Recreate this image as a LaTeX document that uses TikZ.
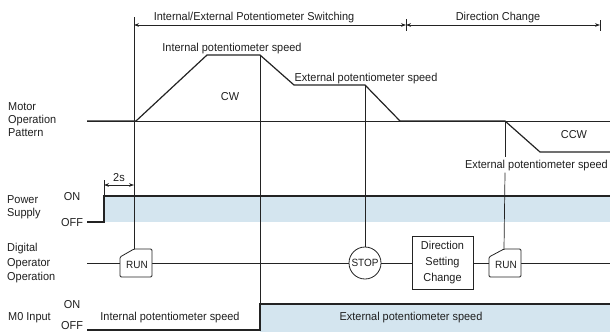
\documentclass[tikz,border=0pt]{standalone}
\usepackage{fontspec}
\setmainfont{Liberation Sans}[FakeStretch=0.95]
\usetikzlibrary{arrows.meta}
\definecolor{ln}{RGB}{35,35,35}
\definecolor{band}{RGB}{212,229,239}
\definecolor{txt}{RGB}{30,30,30}
\tikzset{
  guide/.style={draw=ln, line width=0.7pt},
  sig/.style={draw=ln, line width=1.1pt},
  prof/.style={draw=ln, line width=1.2pt, line join=miter},
  dimarrow/.style={draw=ln, line width=0.6pt, {Stealth[length=5pt,width=3.6pt]}-{Stealth[length=5pt,width=3.6pt]}},
  lbl/.style={inner sep=0pt, text=txt},
  smalllbl/.style={inner sep=0pt, text=txt, font=\fontsize{10.5}{12}\selectfont},
  keyshape/.style={draw=ln, line width=0.8pt, fill=white, rounded corners=1.2pt},
}
\begin{document}
\begin{tikzpicture}[x=1pt,y=-1pt, font=\fontsize{11.5}{13.5}\selectfont]
\useasboundingbox (0,0) rectangle (610,332);
\clip (0,0) rectangle (610,332);

% shaded ON bands
\fill[band] (104,196) rectangle (610,222);
\fill[band] (260,304) rectangle (610,332);

% ---------- coordinates ----------
\coordinate (gAtop) at (134,17);
\coordinate (run1top) at (134,249);
\coordinate (hL) at (134,25);
\coordinate (hM) at (406,25);
\coordinate (hR) at (600,25);
\coordinate (tM1) at (406,19);
\coordinate (tM2) at (406,31);
\coordinate (tR1) at (600,20);
\coordinate (tR2) at (600,31);

\coordinate (m0) at (87,121);
\coordinate (mEnd) at (610,121);
\coordinate (p1) at (136,121);
\coordinate (p2) at (207,55);
\coordinate (p3) at (260,55);
\coordinate (p4) at (294,85);
\coordinate (p5) at (365,85);
\coordinate (p6) at (400,121);
\coordinate (p7) at (505,121);
\coordinate (p8) at (540,152);
\coordinate (p9) at (610,152);

\coordinate (pw0) at (87,222);
\coordinate (pw1) at (104,222);
\coordinate (pw2) at (104,196);
\coordinate (pw3) at (610,196);
\coordinate (pwtick) at (104,180);
\coordinate (d2a) at (104,185);
\coordinate (d2b) at (134,185);

\coordinate (op0) at (87,263);
\coordinate (op1) at (610,263);

\coordinate (mi0) at (87,330);
\coordinate (mi1) at (260,330);
\coordinate (mi2) at (260,304);
\coordinate (mi3) at (610,304);

% ---------- header dimension arrows ----------
\draw[guide] (gAtop) -- (run1top);
\draw[guide] (tM1) -- (tM2);
\draw[guide] (tR1) -- (tR2);
\draw[dimarrow] (hL) -- (hM);
\draw[dimarrow] (hM) -- (hR);
\node[lbl, anchor=base] (hdr1) at (254,20) {Internal/External Potentiometer Switching};
\node[lbl, anchor=base] (hdr2) at (498,20) {Direction Change};

% ---------- motor operation pattern ----------
\draw[guide] (m0) -- (mEnd);
\draw[prof] (m0) -- (p1) -- (p2) -- (p3) -- (p4) -- (p5) -- (p6) -- (p7) -- (p8) -- (p9);
\node[lbl, anchor=base] (ips) at (232,51) {Internal potentiometer speed};
\node[lbl, anchor=base] (eps1) at (366,81.5) {External potentiometer speed};
\node[lbl, anchor=base] (cw) at (230,100) {CW};
\node[lbl, anchor=base] (ccw) at (574,138) {CCW};
\node[lbl, anchor=base east, inner ysep=2pt] (eps2) at (608,168) {External potentiometer speed};

% vertical guides
\draw[guide] (p3) -- (mi1);
\draw[guide] (p7) -- (eps2.north -| p7);
\draw[guide] (eps2.south -| p7) -- (504,249);

% ---------- power supply ----------
\draw[sig] (pw0) -- (pw1) -- (pw2) -- (pw3);
\draw[guide] (pw2) -- (pwtick);
\draw[dimarrow] (d2a) -- (d2b);
\node[lbl, anchor=base] (t2s) at (119,181) {2s};
\node[lbl, anchor=base] (on1) at (72,200.7) {ON};
\node[lbl, anchor=base] (off1) at (72,226.7) {OFF};

% ---------- digital operator ----------
\draw[sig, line width=0.9pt] (op0) -- (op1);
\draw[keyshape] (120,257) -- (134,249) -- (152,249) -- (152,277) -- (120,277) -- cycle;
\node[smalllbl] (run1) at (137,265) {RUN};
\node[circle, draw=ln, line width=0.8pt, fill=white, minimum size=32pt, inner sep=0pt,
      text=txt, font=\fontsize{10.5}{12}\selectfont] (stop) at (365,263) {STOP};
\draw[guide] (p5) -- (stop.north);
\node[draw=ln, line width=0.8pt, fill=white, minimum width=61pt, minimum height=53pt,
      align=center, inner sep=0pt, text=txt, font=\fontsize{11.5}{16}\selectfont]
      (dir) at (442.5,262.5) {Direction\\Setting\\Change};
\draw[keyshape] (489,257) -- (504,249) -- (521,249) -- (521,277) -- (489,277) -- cycle;
\node[smalllbl] (run2) at (506,265) {RUN};

% ---------- M0 input ----------
\draw[sig] (mi0) -- (mi1) -- (mi2) -- (mi3);
\node[lbl, anchor=base] (on2) at (72,308.5) {ON};
\node[lbl, anchor=base] (off2) at (72,329.5) {OFF};
\node[lbl, anchor=base] (ipsB) at (170,320.7) {Internal potentiometer speed};
\node[lbl, anchor=base] (epsB) at (411,320.7) {External potentiometer speed};

% ---------- row labels ----------
\node[lbl, anchor=base west, align=left, font=\fontsize{11.5}{13}\selectfont] (motor) at (8,136.7) {Motor\\Operation\\Pattern};
\node[lbl, anchor=base west, align=left, font=\fontsize{11.5}{13.4}\selectfont] (power) at (7,216.7) {Power\\Supply};
\node[lbl, anchor=base west, align=left, font=\fontsize{11.5}{14.5}\selectfont] (digital) at (7,280.7) {Digital\\Operator\\Operation};
\node[lbl, anchor=base west] (m0in) at (8,320.7) {M0 Input};
\end{tikzpicture}
\end{document}
